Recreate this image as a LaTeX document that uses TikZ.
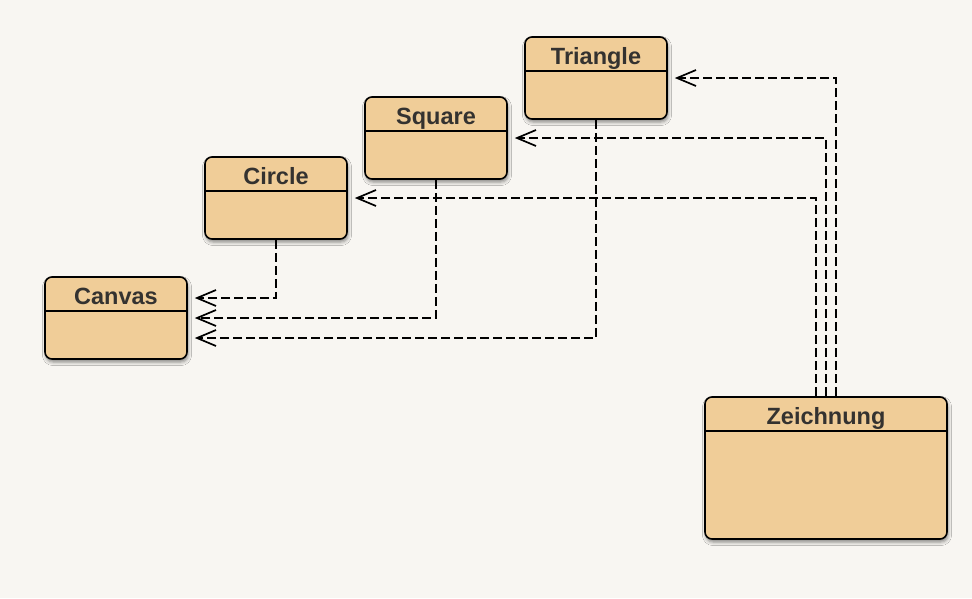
\documentclass[tikz,border=0pt]{standalone}
\usepackage{fontspec}
\setmainfont{Liberation Sans}
\usetikzlibrary{arrows.meta,shadows.blur}
\definecolor{paper}{RGB}{248,246,242}
\definecolor{classfill}{RGB}{240,205,152}
\definecolor{titlegray}{RGB}{52,50,48}
\tikzset{
	classbox/.style   = {shape=rectangle, rounded corners=7pt,
		draw=black, line width=1.6pt, fill=classfill,
		inner sep=0pt, text height=27pt, text=titlegray,
		font=\bfseries\fontsize{23.5}{24}\selectfont,
		blur shadow={shadow xshift=1pt, shadow yshift=-3pt,
			shadow blur radius=3.5pt, shadow opacity=45},
		path picture={\draw[line width=1.6pt]
			([yshift=-34pt]path picture bounding box.north west) --
			([yshift=-34pt]path picture bounding box.north east);}},
	smallclass/.style = {classbox, minimum width=142pt, text depth=55pt},
	bigclass/.style   = {classbox, minimum width=242pt, text depth=115pt},
	depends/.style    = {draw, line width=1.7pt, dash pattern=on 9pt off 4pt,
		-{Straight Barb[length=19pt, width=16pt, line width=1.7pt]},
		shorten >=7pt}
}
\begin{document}
\begin{tikzpicture}[x=1pt, y=-1pt]
	% background and page size
	\fill[paper] (0,0) rectangle (972,598);
	\useasboundingbox (0,0) rectangle (972,598);
	% classes
	\node [smallclass] (triangle) at (596,78)  {Triangle};
	\node [smallclass] (square)   at (436,138) {Square};
	\node [smallclass] (circle)   at (276,198) {Circle};
	\node [smallclass] (canvas)   at (116,318) {Canvas};
	\node [bigclass]   (zeichnung) at (826,468) {Zeichnung};
	% shapes use the canvas
	\draw [depends] (circle.south)   |- ([yshift=20pt]canvas.east);
	\draw [depends] (square.south)   |- (canvas.east);
	\draw [depends] (triangle.south) |- ([yshift=-20pt]canvas.east);
	% the drawing uses the shapes
	\draw [depends] ([xshift=-10pt]zeichnung.north) |- (circle.east);
	\draw [depends] (zeichnung.north) |- (square.east);
	\draw [depends] ([xshift=10pt]zeichnung.north) |- (triangle.east);
\end{tikzpicture}
\end{document}
